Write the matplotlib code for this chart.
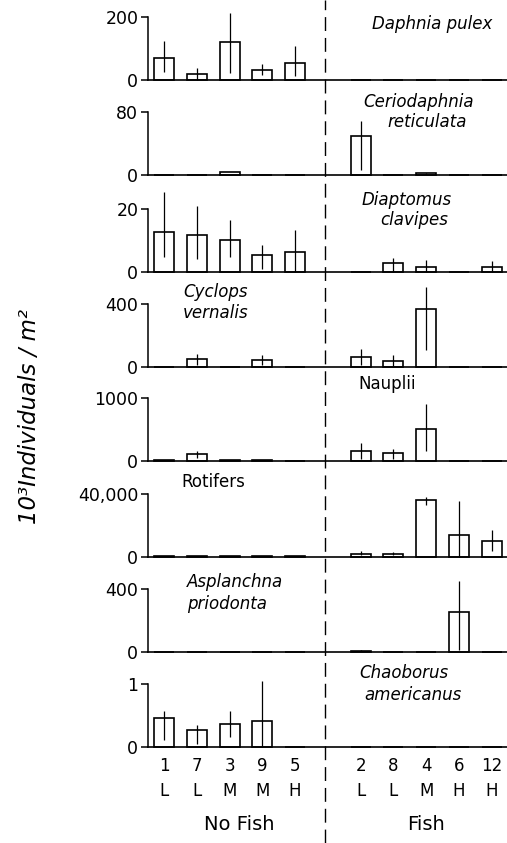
import matplotlib
matplotlib.use("Agg")
import matplotlib.pyplot as plt
from matplotlib.lines import Line2D
from matplotlib.transforms import blended_transform_factory

plt.rcParams['font.family'] = ['DejaVu Sans']

# ---- data ----
sites = ["1", "7", "3", "9", "5", "2", "8", "4", "6", "12"]
levels = ["L", "L", "M", "M", "H", "L", "L", "M", "H", "H"]
groups = ["No Fish", "Fish"]

daphnia = [71, 19, 122, 31, 53, 0, 0, 0, 0, 0]
daphnia_lo = [45, 19, 99, 15, 40, 0, 0, 0, 0, 0]
daphnia_hi = [54, 20, 92, 19, 55, 0, 0, 0, 0, 0]

cerio = [0, 0, 4, 0, 0, 49, 0, 2, 0, 0]
cerio_lo = [0, 0, 0, 0, 0, 43, 0, 1, 0, 0]
cerio_hi = [0, 0, 0, 0, 0, 20, 0, 1, 0, 0]

diapt = [12.6, 11.9, 10.3, 5.3, 6.3, 0, 2.8, 1.6, 0, 1.6]
diapt_lo = [7.9, 7.7, 5.4, 4.2, 6.3, 0, 2.8, 1.6, 0, 1.6]
diapt_hi = [12.9, 9.1, 6.2, 3.3, 6.9, 0, 1.6, 2.1, 0, 1.9]

cyclops = [0, 48, 0, 42, 0, 63, 38, 368, 0, 0]
cyclops_lo = [0, 38, 0, 30, 0, 53, 30, 263, 0, 0]
cyclops_hi = [0, 36, 0, 32, 0, 53, 36, 137, 0, 0]

nauplii = [10, 112, 10, 10, 0, 164, 123, 505, 0, 0]
nauplii_lo = [0, 72, 0, 0, 0, 134, 93, 341, 0, 0]
nauplii_hi = [0, 52, 0, 0, 0, 118, 68, 404, 0, 0]

rotifers = [500, 500, 500, 500, 500, 2000, 2000, 36200, 13900, 10200]
rotifers_lo = [0, 0, 0, 0, 0, 1000, 800, 3500, 13900, 6700]
rotifers_hi = [0, 0, 0, 0, 0, 1500, 1000, 1700, 21500, 6900]

asplan = [0, 0, 0, 0, 0, 8, 0, 0, 255, 0]
asplan_lo = [0, 0, 0, 0, 0, 4, 0, 0, 245, 0]
asplan_hi = [0, 0, 0, 0, 0, 4, 0, 0, 195, 0]

chaob = [0.46, 0.27, 0.37, 0.41, 0, 0, 0, 0, 0, 0]
chaob_lo = [0.35, 0.22, 0.21, 0.41, 0, 0, 0, 0, 0, 0]
chaob_hi = [0.11, 0.08, 0.20, 0.63, 0, 0, 0, 0, 0, 0]

top_ticks = [200, 80, 20, 400, 1000, 40000, 400, 1]
top_labels = ["200", "80", "20", "400", "1000", "40,000", "400", "1"]

panels = [
    (daphnia, daphnia_lo, daphnia_hi, [("Daphnia pulex", 8.2, 0.59)], True),
    (cerio, cerio_lo, cerio_hi, [("Ceriodaphnia", 7.76, 0.77), ("reticulata", 8.03, 0.56)], True),
    (diapt, diapt_lo, diapt_hi, [("Diaptomus", 7.39, 0.76), ("clavipes", 7.63, 0.55)], True),
    (cyclops, cyclops_lo, cyclops_hi, [("Cyclops", 1.56, 0.79), ("vernalis", 1.58, 0.57)], True),
    (nauplii, nauplii_lo, nauplii_hi, [("Nauplii", 6.8, 0.81)], False),
    (rotifers, rotifers_lo, rotifers_hi, [("Rotifers", 1.5, 0.79)], False),
    (asplan, asplan_lo, asplan_hi, [("Asplanchna", 2.17, 0.74), ("priodonta", 1.92, 0.51)], True),
    (chaob, chaob_lo, chaob_hi, [("Chaoborus", 7.33, 0.78), ("americanus", 7.59, 0.55)], True),
]

# ---- layout ----
W, H = 507, 843
fig = plt.figure(figsize=(W / 100, H / 100), dpi=100)
zero_px = [80, 175, 272, 367, 461, 557, 652, 747]
panel_h = 95
tick_h = 63
left_px = 148
xlim = (-0.49, 10.47)
pos = [0, 1, 2, 3, 4, 6, 7, 8, 9, 10]
sep_x = 4.9

axes = []
for i, (vals, lo, hi, labels, italic) in enumerate(panels):
    z = zero_px[i]
    ax = fig.add_axes([left_px / W, 1 - z / H, (W - left_px) / W, panel_h / H])
    ax.patch.set_alpha(0)
    top = top_ticks[i]
    ax.set_ylim(0, top * panel_h / tick_h)
    ax.set_xlim(*xlim)
    ax.bar(pos, vals, width=0.61, facecolor="white", edgecolor="black",
           linewidth=1.2, zorder=2, clip_on=False)
    ax.errorbar(pos, vals, yerr=[lo, hi], fmt="none", ecolor="black",
                elinewidth=0.9, capsize=0, zorder=3, clip_on=False)
    for s in ["top", "right"]:
        ax.spines[s].set_visible(False)
    ax.spines["left"].set_bounds(0, top)
    ax.spines["left"].set_linewidth(1.1)
    ax.spines["bottom"].set_linewidth(1.2)
    ax.set_yticks([0, top], labels=["0", top_labels[i]])
    ax.tick_params(axis="y", direction="out", length=5, width=1.1, pad=2,
                   labelsize=12.5)
    ax.tick_params(axis="x", length=0)
    ax.set_xticks([])
    tr = blended_transform_factory(ax.transData, ax.transAxes)
    for (txt, x, y) in labels:
        ax.text(x, y, txt, transform=tr, ha="center", va="center",
                fontsize=12, style="italic" if italic else "normal")
    axes.append(ax)

# bottom x labels
axb = axes[-1]
axb.set_xticks(pos, labels=[f"{s}\n{l}" for s, l in zip(sites, levels)])
for t in axb.get_xticklabels():
    t.set_linespacing(1.5)
axb.tick_params(axis="x", length=0, pad=7, labelsize=12)
trb = blended_transform_factory(axb.transData, axb.transAxes)
axb.text(2.3, -0.82, groups[0], transform=trb, ha="center", va="center", fontsize=14)
axb.text(8.0, -0.82, groups[1], transform=trb, ha="center", va="center", fontsize=14)

# dashed separator across all panels
ax0 = axes[0]
p = ax0.get_position()
xf = p.x0 + (sep_x - xlim[0]) / (xlim[1] - xlim[0]) * p.width
fig.add_artist(Line2D([xf, xf], [0, 1], transform=fig.transFigure, color="black",
                      linewidth=1.0, linestyle=(0, (10, 5))))

fig.text(30 / W, 1 - 417 / H, "10³Individuals / m²", rotation=90, ha="center",
         va="center", fontsize=16.5, style="italic")

fig.savefig("out.png", dpi=100)
